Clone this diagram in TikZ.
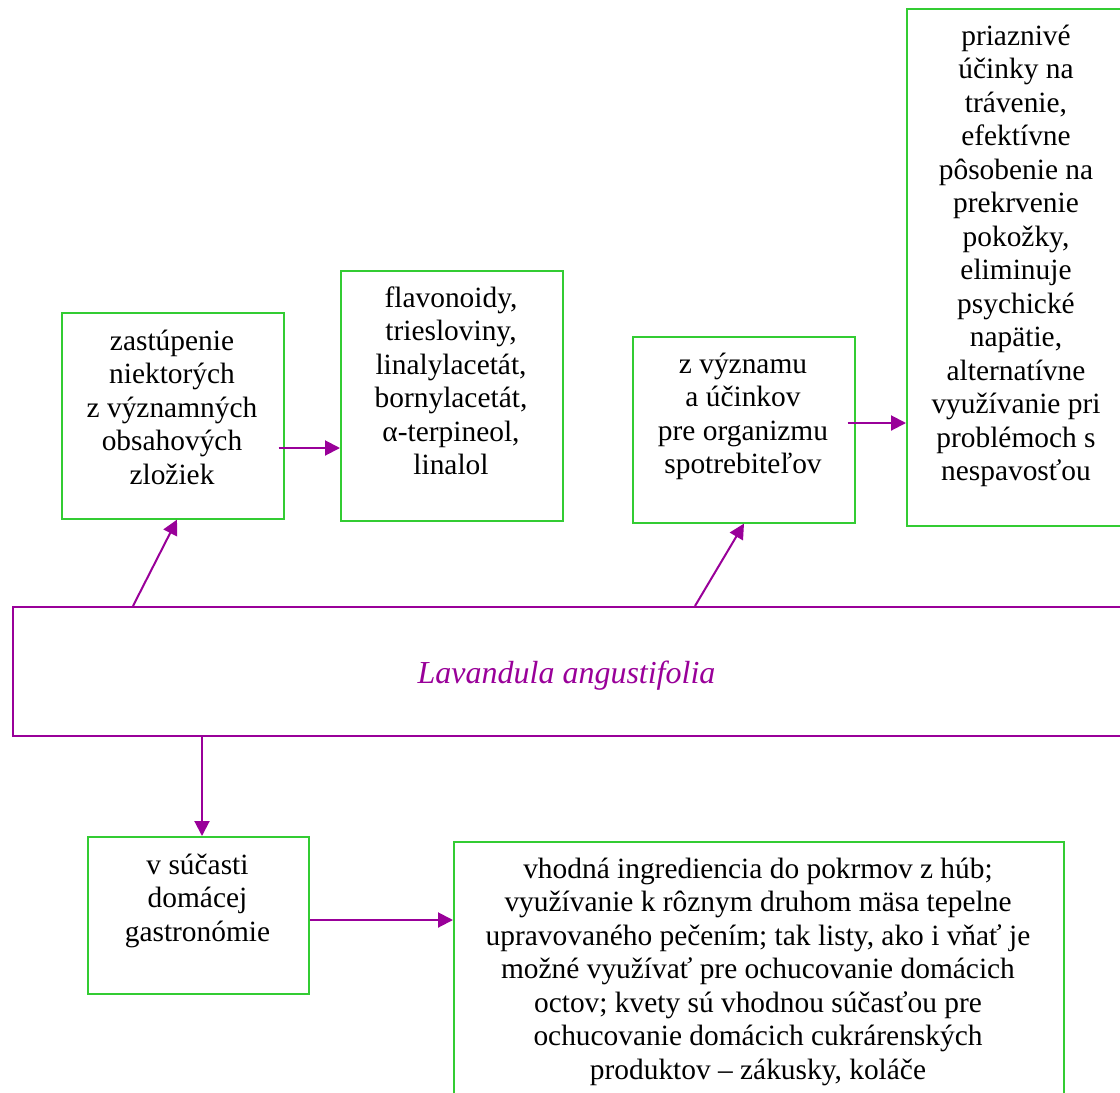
\documentclass[tikz,border=0pt]{standalone}
\usepackage{fontspec}
\setmainfont{Liberation Serif}
\usetikzlibrary{arrows.meta,calc}
\definecolor{vio}{RGB}{153,0,153}
\definecolor{grn}{RGB}{51,204,51}
\newcommand{\boxtext}[2]{\parbox[t]{#1pt}{\centering\fontsize{29.4}{33.5}\selectfont #2}}
\begin{document}
\begin{tikzpicture}[x=1pt,y=-1pt,
  gbox/.style={draw=grn,line width=1.6pt,rectangle,inner sep=0pt,anchor=north west},
  vbox/.style={draw=vio,line width=1.6pt,rectangle,inner sep=0pt,anchor=north west},
  txt/.style={anchor=base,inner sep=0pt},
  arr/.style={draw=vio,line width=2pt,-{Triangle[length=15pt,width=15pt]}}]
\clip (0,0) rectangle (1120,1093);
\fill[white] (0,0) rectangle (1120,1093);
% boxes
\node[gbox,minimum width=222pt,minimum height=206pt] (A) at (61,312) {};
\node[gbox,minimum width=222pt,minimum height=250pt] (B) at (340,270) {};
\node[gbox,minimum width=222pt,minimum height=186pt] (C) at (632,336) {};
\node[gbox,minimum width=222pt,minimum height=517pt] (D) at (906,8) {};
\node[vbox,minimum width=1120pt,minimum height=129pt] (E) at (12,606) {};
\node[gbox,minimum width=221pt,minimum height=157pt] (F) at (87,836) {};
\node[gbox,minimum width=610pt,minimum height=300pt] (G) at (453,841) {};
% texts
\node[txt] (At) at (172,350) {\boxtext{215}{zastúpenie\\niektorých\\z významných\\obsahových\\zložiek}};
\node[txt] (Bt) at (451,307) {\boxtext{215}{flavonoidy,\\triesloviny,\\linalylacetát,\\bornylacetát,\\α-terpineol,\\linalol}};
\node[txt] (Ct) at (743,373) {\boxtext{215}{z významu\\a účinkov\\pre organizmu\\spotrebiteľov}};
\node[txt] (Dt) at (1016,45) {\boxtext{215}{priaznivé\\účinky na\\trávenie,\\efektívne\\pôsobenie na\\prekrvenie\\pokožky,\\eliminuje\\psychické\\napätie,\\alternatívne\\využívanie pri\\problémoch s\\nespavosťou}};
\node[txt,text=vio,font=\fontsize{32}{36}\selectfont\itshape] (Et) at (566.5,683) {Lavandula angustifolia};
\node[txt] (Ft) at (197.5,874) {\boxtext{215}{v súčasti\\domácej\\gastronómie}};
\node[txt] (Gt) at (758,878) {\boxtext{600}{vhodná ingrediencia do pokrmov z húb;\\využívanie k rôznym druhom mäsa tepelne\\upravovaného pečením; tak listy, ako i vňať je\\možné využívať pre ochucovanie domácich\\octov; kvety sú vhodnou súčasťou pre\\ochucovanie domácich cukrárenských\\produktov – zákusky, koláče}};
% connectors
\draw[arr] ($(A.east |- 0,448)+(-6,0)$) -- (B.west |- 0,448);
\draw[arr] ($(C.east |- 0,423)+(-8,0)$) -- (D.west |- 0,423);
\draw[arr] (E.north -| 133,0) -- (A.south -| 177,0);
\draw[arr] (E.north -| 695,0) -- (C.south -| 744,0);
\draw[arr] (E.south -| 202,0) -- (F.north -| 202,0);
\draw[arr] (F.east |- 0,920) -- (G.west |- 0,920);
\end{tikzpicture}
\end{document}
